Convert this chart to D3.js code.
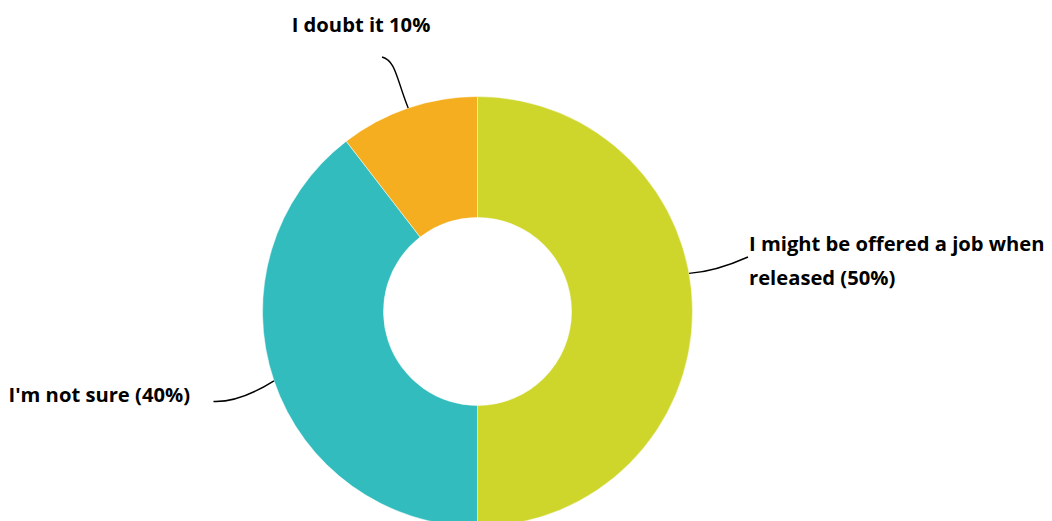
<!DOCTYPE html>
<html>
<head>
<meta charset="utf-8">
<script src="https://cdn.jsdelivr.net/npm/d3@7"></script>
<style>
  html, body { margin: 0; padding: 0; background: #ffffff; }
  svg { display: block; }
  text { font-family: "Open Sans", Lato, sans-serif; font-weight: bold; fill: #000; }
</style>
</head>
<body>
<svg id="chart" width="1052" height="521"></svg>
<script>
const categories = ["I might be offered a job when released", "I'm not sure", "I doubt it"];
const values = [50, 39.55, 10.45];
const labelLines = [["I might be offered a job when", "released (50%)"], ["I'm not sure (40%)"], ["I doubt it 10%"]];
const colors = ["#CED52B", "#33BCBD", "#F5AE1F"];

const W = 1052, H = 521;
const cx = 477.5, cy = 311.5, outerR = 215, innerR = 94;

const svg = d3.select("#chart");
const g = svg.append("g").attr("transform", `translate(${cx},${cy})`);

const pie = d3.pie().sort(null).value(d => d.value);
const arcs = pie(categories.map((c, i) => ({ name: c, value: values[i], lines: labelLines[i] })));
const arc = d3.arc().innerRadius(innerR).outerRadius(outerR);

g.selectAll("path.slice")
  .data(arcs)
  .enter().append("path")
  .attr("class", "slice")
  .attr("d", arc)
  .attr("fill", (d, i) => colors[i])
  .attr("stroke", "#ffffff")
  .attr("stroke-width", 0.5);

// point on outer rim at angle a (radians, clockwise from 12 o'clock)
function rim(a) { return [outerR * Math.sin(a), -outerR * Math.cos(a)]; }

const mid = d => (d.startAngle + d.endAngle) / 2;
const leaderDefs = [
  { // green
    start: rim(mid(arcs[0]) - 10.2 * Math.PI / 180),
    end: [270.5, -54.5], ctrl: [238, -40],
    textX: 271.5, textY: -60.5, anchor: "start", lineGap: 33.5
  },
  { // teal
    start: rim(mid(arcs[1])),
    end: [-264, 90], ctrl: [-238, 91],
    textX: -287.5, textY: 90.5, anchor: "end", lineGap: 33.5
  },
  { // orange
    start: rim(mid(arcs[2])),
    end: [-95.5, -254.5], ctrl: [-79, -258],
    textX: -116.5, textY: -280, anchor: "middle", lineGap: 33.5
  }
];

const leaders = g.append("g").attr("class", "leaders");
arcs.forEach((d, i) => {
  const L = leaderDefs[i];
  const p = d3.path();
  p.moveTo(L.start[0], L.start[1]);
  if (i === 2) {
    p.bezierCurveTo(L.start[0] - 12, L.start[1] - 30, L.end[0] + 14, L.end[1] + 4, L.end[0], L.end[1]);
  } else {
    p.quadraticCurveTo(L.ctrl[0], L.ctrl[1], L.end[0], L.end[1]);
  }
  leaders.append("path")
    .attr("d", p.toString())
    .attr("fill", "none")
    .attr("stroke", "#000")
    .attr("stroke-width", 1.4);

  const t = g.append("text")
    .attr("text-anchor", L.anchor)
    .attr("font-size", 20.2)
    .attr("x", L.textX)
    .attr("y", L.textY);
  d.data.lines.forEach((ln, j) => {
    t.append("tspan").attr("x", L.textX).attr("y", L.textY + j * L.lineGap).text(ln);
  });
});
</script>
</body>
</html>
